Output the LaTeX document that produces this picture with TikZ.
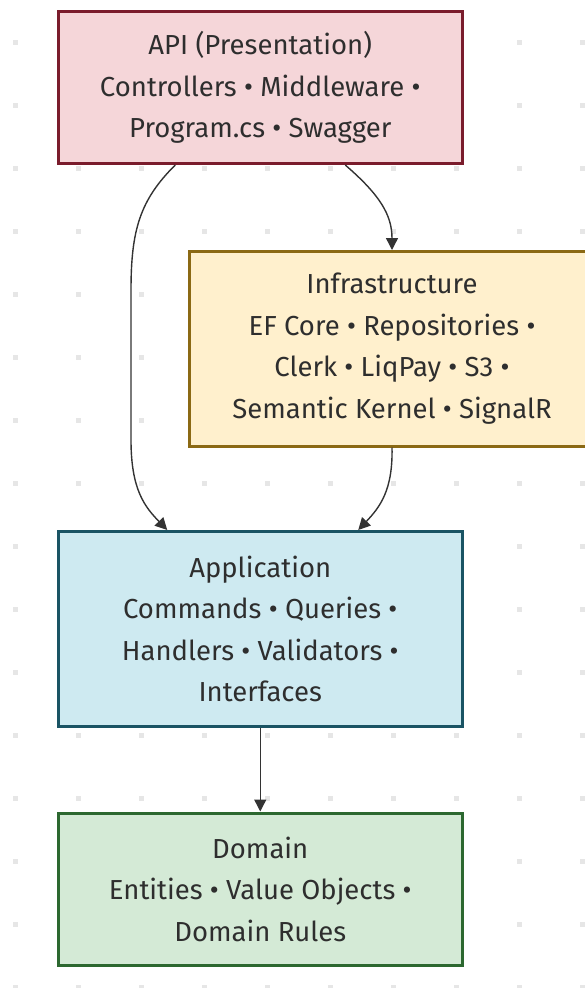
\documentclass[tikz,border=0pt]{standalone}
\usepackage{fontspec}
\setmainfont{Fira Sans}
\usetikzlibrary{arrows.meta}
\definecolor{txt}{HTML}{2E2E2E}
\definecolor{edge}{HTML}{333333}
\definecolor{dotc}{HTML}{E6E6E6}
\definecolor{apifill}{HTML}{F5D6D9}
\definecolor{apiline}{HTML}{7A1C2C}
\definecolor{infill}{HTML}{FFF0CD}
\definecolor{inline}{HTML}{8B6914}
\definecolor{appfill}{HTML}{CEEAF1}
\definecolor{appline}{HTML}{1A5464}
\definecolor{domfill}{HTML}{D4EAD6}
\definecolor{domline}{HTML}{2C6830}
\tikzset{
  layer/.style={rectangle, line width=3pt, align=center, inner sep=0pt,
    text=txt, font=\fontsize{27.5}{41.5}\selectfont},
  link/.style={draw=edge, line width=1.4pt,
    -{Triangle[length=12pt, width=12pt]}},
  gdot/.style={fill=dotc}
}
\begin{document}
\begin{tikzpicture}[x=1pt, y=-1pt]
\useasboundingbox (0,0) rectangle (585,988);
\begin{scope}
\clip (0,0) rectangle (585,988);
% background dot grid
\foreach \gx in {15,78,...,590}
  \foreach \gy in {42,105,...,995}
    \fill[gdot] (\gx-2.5,\gy-2.5) rectangle (\gx+2.5,\gy+2.5);

% layers
\node[layer, fill=apifill, draw=apiline, minimum width=403.5pt, minimum height=152pt]
  (api) at (260.25,87.5)
  {API (Presentation)\\Controllers • Middleware •\\Program.cs • Swagger};
\node[layer, fill=infill, draw=inline, minimum width=406pt, minimum height=194.5pt]
  (infra) at (392,348.75)
  {Infrastructure\\EF Core • Repositories •\\Clerk • LiqPay • S3 •\\Semantic Kernel • SignalR};
\node[layer, fill=appfill, draw=appline, minimum width=403.5pt, minimum height=194.5pt]
  (app) at (260.25,628.75)
  {Application\\Commands • Queries •\\Handlers • Validators •\\Interfaces};
\node[layer, fill=domfill, draw=domline, minimum width=403.5pt, minimum height=152pt]
  (dom) at (260.25,889)
  {Domain\\Entities • Value Objects •\\Domain Rules};

% dependencies
\draw[link] ([xshift=-85pt]api.south) .. controls (140,200) and (131,230) .. (131,290)
  -- (131,440) .. controls (131,490) and (145,507) .. ([xshift=-93pt]app.north);
\draw[link] ([xshift=85pt]api.south) .. controls (380,195) and (392,215) .. (infra.north);
\draw[link] (infra.south) .. controls (393,490) and (380,507) .. ([xshift=98pt]app.north);
\draw[link] (app.south) -- (dom.north);
\end{scope}
\end{tikzpicture}
\end{document}
